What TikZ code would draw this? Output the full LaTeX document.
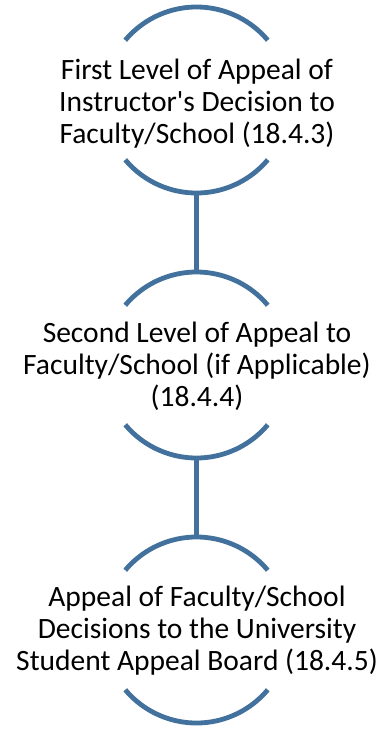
\documentclass[tikz,border=0pt]{standalone}
\usepackage{fontspec}
\setmainfont{Carlito}[Ligatures=TeXOff]
\usepackage{tikz}
\usetikzlibrary{calc}

\definecolor{ringblue}{HTML}{41719C}

\tikzset{
  ring/.style={circle, minimum size=186pt, inner sep=0pt, outer sep=0pt},
  arcline/.style={draw=ringblue, line width=4.8pt},
  steptext/.style={align=center, font=\fontsize{29.5}{32}\selectfont, inner sep=0pt}
}

\begin{document}
\begin{tikzpicture}[x=1pt, y=1pt]
			% \draw[very thin, gray, dashed](0, 0)grid(386, -729);
			\useasboundingbox (0, 0) rectangle (386, -729);

			\node[ring] (ring1) at (196.5, -100) {};
			\node[ring] (ring2) at (196.5, -365) {};
			\node[ring] (ring3) at (196.5, -630) {};

			\node[steptext] (first) at (197, -104) {First Level of Appeal of\\Instructor's Decision to\\Faculty/School (18.4.3)};
			\node[steptext] (second) at (197, -366.5) {Second Level of Appeal to\\Faculty/School (if Applicable)\\(18.4.4)};
			\node[steptext] (third) at (197, -631) {Appeal of Faculty/School\\Decisions to the University\\Student Appeal Board (18.4.5)};

			\foreach \r in {ring1, ring2, ring3}{
				\draw[arcline] (\r.40) arc[radius=93, start angle=40, end angle=140];
				\draw[arcline] (\r.220) arc[radius=93, start angle=220, end angle=320];
			}

			\draw[arcline] (ring1.south)--(ring2.north);
			\draw[arcline] (ring2.south)--(ring3.north);
		\end{tikzpicture}
\end{document}
